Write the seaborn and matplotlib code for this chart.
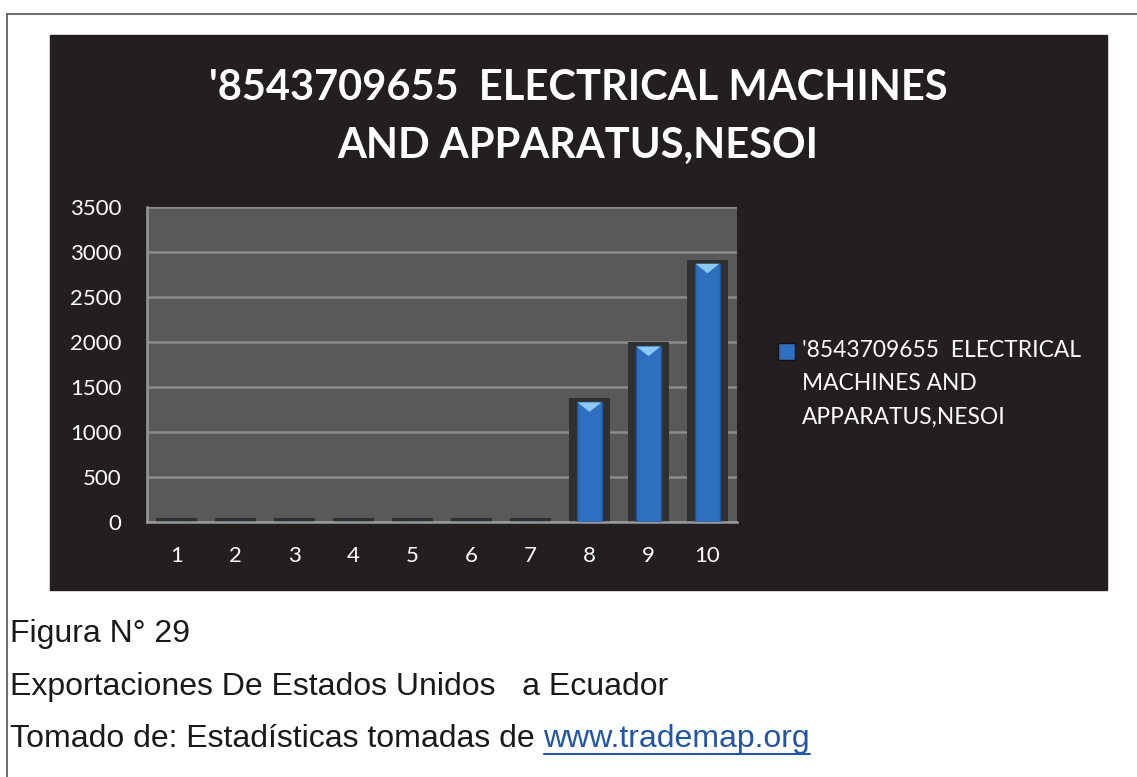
import numpy as np
import pandas as pd
import seaborn as sns
import matplotlib.pyplot as plt
from matplotlib.patches import Rectangle
from matplotlib.lines import Line2D

# datos del grafico
periodos = ['1', '2', '3', '4', '5', '6', '7', '8', '9', '10']
valores = [0, 0, 0, 0, 0, 0, 0, 1330, 1950, 2870]
titulo = ["'8543709655  ELECTRICAL MACHINES", "AND APPARATUS,NESOI"]
leyenda = "'8543709655  ELECTRICAL\nMACHINES AND\nAPPARATUS,NESOI"
pie = ['Figura N° 29',
       'Exportaciones De Estados Unidos   a Ecuador',
       'Tomado de: Estadísticas tomadas de ']
enlace = 'www.trademap.org'

df = pd.DataFrame({'periodo': periodos, 'valor': valores})
df['sombra'] = df['valor'] + 45

sns.set_style('white')
plt.rcParams['font.family'] = ['Lato', 'DejaVu Sans']

W, H = 1137, 777
fig = plt.figure(figsize=(W / 100, H / 100), dpi=100)
fig.patch.set_facecolor('white')

# marco de la pagina
fig.add_artist(Line2D([7 / W, 7 / W], [0, 1 - 14 / H], color='#555555', lw=1.2))
fig.add_artist(Line2D([7 / W, 1], [1 - 14 / H, 1 - 14 / H], color='#555555', lw=1.2))

# fondo oscuro del grafico
fig.add_artist(Rectangle((50 / W, 1 - 590 / H), 1057 / W, 555 / H,
                         transform=fig.transFigure, color='#231f20', zorder=0))

ax = fig.add_axes([147 / W, 1 - 522 / H, 590 / W, 315 / H])
ax.set_facecolor('#595959')

sns.barplot(data=df, x='periodo', y='sombra', color='#2f302f', width=0.71,
            saturation=1, edgecolor='none', linewidth=0, ax=ax, zorder=2)
sns.barplot(data=df, x='periodo', y='valor', color='#2f6fbf', width=0.41,
            saturation=1, edgecolor='#1f5598', linewidth=1, ax=ax, zorder=3)

# punta clara de las barras
top = df[df['valor'] > 0]
chevron = [(-1, 0), (1, 0), (0, -0.8), (-1, 0)]
sns.scatterplot(x=[periodos.index(c) for c in top['periodo']], y=top['valor'],
                marker=chevron, s=300, color='#8cc8f4', edgecolor='none', ax=ax, zorder=4)

ax.set_ylim(0, 3500)
ax.set_xlim(-0.5, 9.5)
ax.set_yticks(np.arange(0, 3501, 500))
ax.yaxis.grid(True, color='#8c8c8c', lw=1.8)
ax.set_axisbelow(True)
for s in ['top', 'right']:
    ax.spines[s].set_visible(False)
for s in ['left', 'bottom']:
    ax.spines[s].set_color('#9a9a9a')
    ax.spines[s].set_linewidth(1.8)
ax.set_xticks(np.arange(-0.5, 10, 1), minor=True)
ax.tick_params(axis='x', which='major', length=0, labelsize=16, labelcolor='white', pad=17)
ax.tick_params(axis='x', which='minor', length=6, width=1.8, color='#9a9a9a', direction='out')
ax.tick_params(axis='y', length=6.5, width=1.8, color='#9a9a9a', labelsize=16,
               labelcolor='white', pad=12)
ax.set_xlabel('')
ax.set_ylabel('')

fig.text(578 / W, 1 - 100 / H, titulo[0], ha='center', va='baseline', color='white',
         fontsize=30, fontweight='bold')
fig.text(578 / W, 1 - 158 / H, titulo[1], ha='center', va='baseline', color='white',
         fontsize=30, fontweight='bold')

# leyenda
fig.add_artist(Rectangle((778 / W, 1 - 360 / H), 17 / W, 17 / H,
                         transform=fig.transFigure, facecolor='#2f6fbf',
                         edgecolor='#111111', lw=1))
fig.text(802 / W, 1 - 340 / H, leyenda, ha='left', va='top', color='white',
         fontsize=16.4, linespacing=1.72)

# pie de figura
fam = ['Liberation Sans', 'DejaVu Sans']
fs = 23
fig.text(10 / W, 1 - 642 / H, pie[0], ha='left', va='baseline', fontsize=fs, family=fam,
         color='#1a1a1a')
fig.text(10 / W, 1 - 695 / H, pie[1], ha='left', va='baseline', fontsize=fs, family=fam,
         color='#1a1a1a')
t = fig.text(10 / W, 1 - 747 / H, pie[2], ha='left', va='baseline', fontsize=fs, family=fam,
             color='#1a1a1a')
fig.canvas.draw()
bb = t.get_window_extent()
lk = fig.text(bb.x1 / W, 1 - 747 / H, enlace, ha='left', va='baseline', fontsize=fs,
              family=fam, color='#2255aa')
lb = lk.get_window_extent(renderer=fig.canvas.get_renderer())
fig.add_artist(Line2D([lb.x0 / W, lb.x1 / W], [(H - 754) / H, (H - 754) / H],
                      color='#2255aa', lw=1.5))

fig.savefig('out.png', dpi=100)
